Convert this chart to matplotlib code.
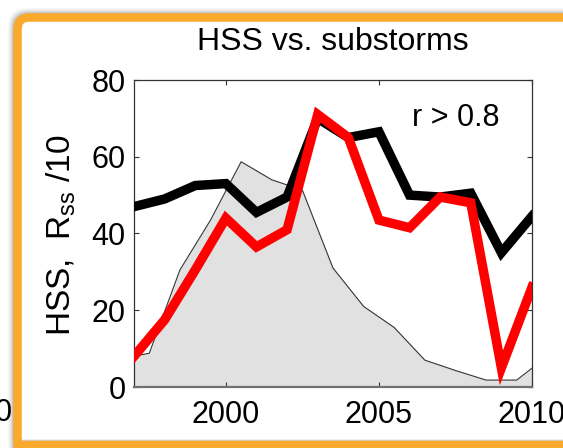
import matplotlib
matplotlib.use("Agg")
import matplotlib.pyplot as plt
from matplotlib.path import Path
from matplotlib.patches import PathPatch
from matplotlib.transforms import IdentityTransform

plt.rcParams['font.family'] = ['Liberation Sans', 'DejaVu Sans']
plt.rcParams['mathtext.fontset'] = 'custom'
plt.rcParams['mathtext.rm'] = 'Liberation Sans'
plt.rcParams['mathtext.it'] = 'Liberation Sans:italic'

# Yearly high-speed-stream and substorm indices
years = [1997, 1998, 1999, 2000, 2001, 2002, 2003, 2004, 2005, 2006, 2007, 2008, 2009, 2010]
hss = [47, 49, 52.5, 53, 45.5, 49.5, 70, 65, 66.5, 50, 49.5, 50.5, 35, 44.5]
substorms = [8, 17.5, 30.5, 44, 36.5, 41, 71, 65, 43.5, 41.5, 49.5, 48, 5, 26]

# Sunspot-type background curve, plotted at mid-year
years_mid = [1996.5, 1997.5, 1998.5, 1999.5, 2000.5, 2001.5, 2002.5, 2003.5,
             2004.5, 2005.5, 2006.5, 2007.5, 2008.5, 2009.5, 2010.5]
r_ss = [7.2, 8.8, 30.5, 43.5, 58.7, 54, 51.3, 31, 21, 15.5, 7, 4.3, 1.8, 1.8, 8]

xticks = [2000, 2005, 2010]
yticks = [0, 20, 40, 60, 80]

W, H = 563, 448
fig = plt.figure(figsize=(W / 100, H / 100), dpi=100)
fig.patch.set_facecolor('white')

# Orange rounded frame with a soft shadow
def frame_path(x0, y0, x1, y1, r):
    # pixel coords, origin top-left -> convert to display (origin bottom-left)
    def p(x, y):
        return (x, H - y)
    verts = [p(x1, y0), p(x0 + r, y0), p(x0, y0), p(x0, y0 + r),
             p(x0, y1), p(x1, y1)]
    codes = [Path.MOVETO, Path.LINETO, Path.CURVE3, Path.CURVE3,
             Path.LINETO, Path.LINETO]
    return Path(verts, codes)

for off, lw, a in [(3, 12, 0.06), (2, 10, 0.08), (1, 9, 0.10)]:
    sp = frame_path(17.5 - off, 17.5 - off, 620, 445, 12)
    fig.patches.append(PathPatch(sp, transform=IdentityTransform(), fill=False,
                                 edgecolor='black', alpha=a, linewidth=lw * 0.72,
                                 capstyle='butt'))
fp = frame_path(17.5, 17.5, 620, 445, 12)
fig.patches.append(PathPatch(fp, transform=IdentityTransform(), fill=False,
                             edgecolor='#F9A92C', linewidth=8.5 * 0.72,
                             joinstyle='round', capstyle='butt'))

ax = fig.add_axes([134 / W, 1 - 387 / H, (532 - 134) / W, (387 - 80) / H])
ax.set_facecolor('white')

ax.fill_between(years_mid, r_ss, 0, color='#e1e1e1', linewidth=0, zorder=1)
ax.plot(years_mid, r_ss, color='#333333', linewidth=0.8, zorder=2)
ax.plot(years, hss, color='black', linewidth=6.8, solid_joinstyle='miter', zorder=3)
ax.plot(years, substorms, color='#ff0000', linewidth=6.8, solid_joinstyle='miter', zorder=4)

ax.set_xlim(1997, 2010)
ax.set_ylim(0, 80)
ax.set_xticks(xticks)
ax.set_yticks(yticks)
ax.tick_params(direction='in', top=True, right=True, length=3.6, width=0.8,
               labelsize=22, colors='#333333', labelcolor='black')
ax.tick_params(axis='x', pad=9)
ax.tick_params(axis='y', pad=6)
for s in ['top', 'left', 'right']:
    ax.spines[s].set_color('#333333')
    ax.spines[s].set_linewidth(0.9)
ax.spines['bottom'].set_color('#707070')
ax.spines['bottom'].set_linewidth(1.6)

ax.text(2006.08, 70, 'r > 0.8', ha='left', va='center', fontsize=22)

fig.text(333 / W, 1 - 42 / H, 'HSS vs. substorms', ha='center', va='center', fontsize=23)
fig.text(61 / W, 1 - 235 / H, r'HSS,  R$_{\rm ss}$ /10', rotation=90,
         ha='center', va='center', fontsize=24)
fig.text(12 / W, 1 - 413 / H, '0', ha='right', va='center', fontsize=22)

fig.savefig('out.png', dpi=100, facecolor='white')
